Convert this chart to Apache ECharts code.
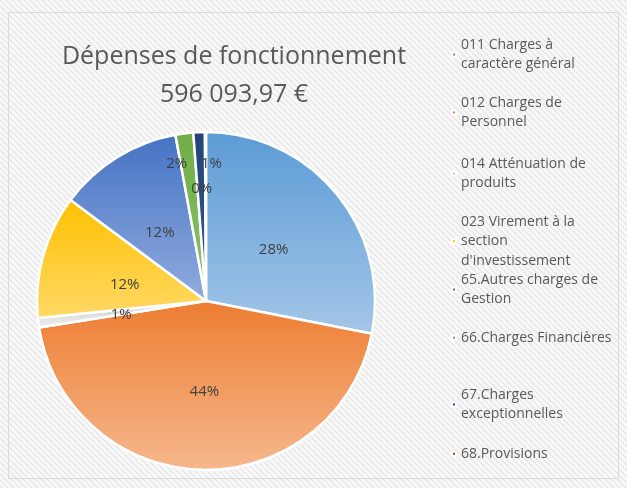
<!DOCTYPE html>
<html lang="fr">
<head>
<meta charset="UTF-8">
<title>Dépenses de fonctionnement</title>
<script src="https://cdn.jsdelivr.net/npm/echarts@6/dist/echarts.min.js"></script>
<style>html,body{margin:0;padding:0;background:#fff;}</style>
</head>
<body>
<div id="main" style="width:627px;height:488px;"></div>
<script>
// données (parts en %)
var categories = ['011 Charges à caractère général', '012 Charges de Personnel', '014 Atténuation de produits',
    '023 Virement à la section d\'investissement', '65.Autres charges de Gestion', '66.Charges Financières',
    '67.Charges exceptionnelles', '68.Provisions'];
var legendTexts = ['011 Charges à\ncaractère général', '012 Charges de\nPersonnel', '014 Atténuation de\nproduits',
    '023 Virement à la\nsection\nd\'investissement', '65.Autres charges de\nGestion', '66.Charges Financières',
    '67.Charges\nexceptionnelles', '68.Provisions'];
var values = [28.1, 44.4, 0.9, 11.8, 11.9, 1.7, 1.1, 0.1];
var titleText = 'Dépenses de fonctionnement';
var totalText = '596 093,97 €';

// couleurs (haut / bas du dégradé) et réglages des étiquettes
var topColors = ['#5b9bd5', '#ed7d31', '#c8c8c8', '#ffc000', '#4472c4', '#70ad47', '#264478', '#9e480e'];
var bottomColors = ['#a4c6e8', '#f6b88e', '#f2f2f2', '#ffd966', '#92acde', '#8cc36a', '#2f5597', '#c55a11'];
var labelOffsets = [[0, 4], [0, 3], [2, 2], [3, 7], [0, 6], [-18, -50], [9, -50], [-4, -25]];
var legendTops = [30, 88, 149, 207, 265, 323, 380, 439];

// fond rayé
var pat = document.createElement('canvas');
pat.width = 6; pat.height = 6;
var ctx = pat.getContext('2d');
ctx.fillStyle = '#f8f8f8';
ctx.fillRect(0, 0, 6, 6);
ctx.strokeStyle = '#e4e4e4';
ctx.lineWidth = 1.2;
ctx.beginPath();
ctx.moveTo(0, 0); ctx.lineTo(6, 6);
ctx.moveTo(-3, 3); ctx.lineTo(3, 9);
ctx.moveTo(3, -3); ctx.lineTo(9, 3);
ctx.stroke();

var myChart = echarts.init(document.getElementById('main'));

var pieData = categories.map(function (name, i) {
    return {
        name: name,
        value: values[i],
        label: { offset: labelOffsets[i] },
        itemStyle: {
            color: new echarts.graphic.LinearGradient(0, 0, 0, 1, [
                { offset: 0, color: topColors[i] },
                { offset: 1, color: bottomColors[i] }
            ])
        }
    };
});

var legends = categories.map(function (name, i) {
    return {
        data: [{ name: name, itemStyle: { color: topColors[i] } }],
        orient: 'vertical',
        left: 446,
        top: legendTops[i],
        icon: 'rect',
        itemWidth: 4,
        itemHeight: 4,
        itemGap: 0,
        selectedMode: false,
        formatter: function () { return legendTexts[i]; },
        textStyle: {
            fontFamily: 'Open Sans',
            fontSize: 14,
            color: '#595959',
            lineHeight: 19.5
        }
    };
});

var option = {
    backgroundColor: { image: pat, repeat: 'repeat' },
    title: {
        text: titleText + '\n' + totalText,
        left: 229,
        top: 33,
        textAlign: 'center',
        textStyle: {
            fontFamily: 'Open Sans',
            fontSize: 25,
            fontWeight: 'normal',
            color: '#595959',
            lineHeight: 38
        }
    },
    legend: legends,
    graphic: [{
        type: 'rect',
        shape: { x: 8.5, y: 12.5, width: 610, height: 466 },
        style: { fill: 'none', stroke: '#dadada', lineWidth: 1 },
        silent: true
    }],
    series: [{
        type: 'pie',
        center: [206, 301],
        radius: 169,
        startAngle: 90,
        clockwise: true,
        percentPrecision: 0,
        animation: false,
        itemStyle: { borderColor: '#ffffff', borderWidth: 2.5 },
        label: {
            show: true,
            position: 'inside',
            formatter: '{d}%',
            fontFamily: 'Open Sans',
            fontSize: 15,
            color: '#404040'
        },
        labelLayout: { hideOverlap: false },
        labelLine: { show: false },
        data: pieData
    }]
};

myChart.setOption(option);
</script>
</body>
</html>
